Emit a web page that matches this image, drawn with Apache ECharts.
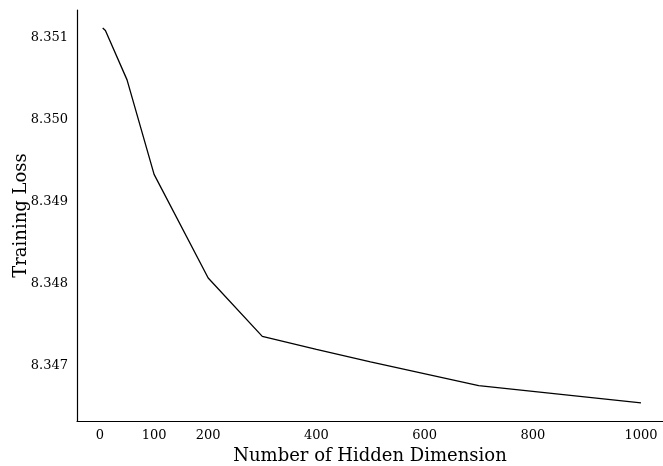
<!DOCTYPE html>
<html>
<head>
<meta charset="utf-8">
<script src="https://cdn.jsdelivr.net/npm/echarts@6/dist/echarts.min.js"></script>
<style>
  html, body { margin: 0; padding: 0; background: #fff; }
  #chart { width: 663px; height: 466px; }
</style>
</head>
<body>
<div id="chart"></div>
<script>
const hiddenDims = [5, 10, 50, 100, 200, 300, 400, 500, 700, 1000];
const trainingLoss = [8.35111, 8.35108, 8.35048, 8.34933, 8.34807, 8.34736, 8.34720, 8.34705, 8.34676, 8.34655];
const xTicks = [0, 100, 200, 400, 600, 800, 1000];
const yTicks = [8.347, 8.348, 8.349, 8.350, 8.351];

const FONT = '"DejaVu Serif", serif';
const chart = echarts.init(document.getElementById('chart'), null, { renderer: 'canvas' });
chart.setOption({
  animation: false,
  backgroundColor: '#ffffff',
  grid: { left: 77, top: 10, width: 586, height: 411, containLabel: false, outerBoundsMode: 'none' },
  xAxis: {
    type: 'value',
    min: -42.5,
    max: 1040.7,
    name: 'Number of Hidden Dimension',
    nameLocation: 'middle',
    nameGap: 26,
    nameMoveOverlap: false,
    nameTextStyle: { fontFamily: FONT, fontSize: 18, color: '#000' },
    axisLine: { show: true, onZero: false, lineStyle: { color: '#000', width: 1.2 } },
    axisTick: { show: false },
    splitLine: { show: false },
    axisLabel: { customValues: xTicks, fontFamily: FONT, fontSize: 13, color: '#000', margin: 8,
      formatter: v => String(v) }
  },
  yAxis: {
    type: 'value',
    min: 8.34633,
    max: 8.35133,
    name: 'Training Loss',
    nameLocation: 'middle',
    nameGap: 47,
    nameMoveOverlap: false,
    nameTextStyle: { fontFamily: FONT, fontSize: 18, color: '#000' },
    axisLine: { show: true, onZero: false, lineStyle: { color: '#000', width: 1.2 } },
    axisTick: { show: false },
    splitLine: { show: false },
    axisLabel: {
      customValues: yTicks, fontFamily: FONT, fontSize: 13, color: '#000', margin: 9,
      formatter: v => v.toFixed(3)
    }
  },
  series: [{
    type: 'line',
    data: hiddenDims.map((d, i) => [d, trainingLoss[i]]),
    showSymbol: false,
    lineStyle: { color: '#000', width: 1.3 },
    clip: false
  }]
});
</script>
</body>
</html>
